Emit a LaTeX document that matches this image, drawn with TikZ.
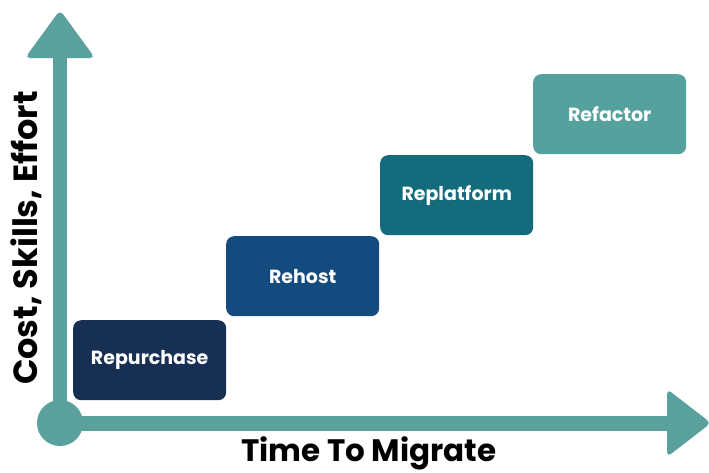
\documentclass[tikz,border=0pt]{standalone}
\usepackage{fontspec}
\setmainfont{Poppins}[BoldFont={* Bold}]
\definecolor{axisteal}{HTML}{5AA19E}
\definecolor{cnavy}{HTML}{172F52}
\definecolor{cblue}{HTML}{134B7F}
\definecolor{cpetrol}{HTML}{136B7C}
\definecolor{cteal}{HTML}{55A19E}
\begin{document}
\begin{tikzpicture}[x=1pt,y=-1pt,
  stage/.style={rounded corners=8pt, minimum width=153pt, minimum height=80pt,
    text=white, font=\bfseries\fontsize{19}{21}\selectfont, inner sep=0pt},
  axislabel/.style={font=\bfseries\fontsize{32}{34}\selectfont, text=black, inner sep=0pt}]
\useasboundingbox (0,0) rectangle (709,472);
% axes
\fill[axisteal] (53,50) rectangle (67,423);
\fill[axisteal] (60,415.5) rectangle (672,430.5);
\fill[axisteal, rounded corners=5pt] (60,10) -- (95,58) -- (25,58) -- cycle;
\fill[axisteal, rounded corners=5pt] (711,423) -- (667,389) -- (667,457) -- cycle;
\node[circle, fill=axisteal, minimum size=46pt, inner sep=0pt] (origin) at (60,423) {};
% stages
\node[stage, fill=cnavy, anchor=north west] (repurchase) at (73,320) {Repurchase};
\node[stage, fill=cblue, anchor=north west] (rehost) at (226,236) {Rehost};
\node[stage, fill=cpetrol, anchor=north west] (replatform) at (380,155) {Replatform};
\node[stage, fill=cteal, anchor=north west] (refactor) at (533,74) {Refactor};
% axis labels
\node[axislabel, rotate=90, font=\bfseries\fontsize{33.5}{35}\selectfont] (ylabel) at (26,238) {Cost, Skills, Effort};
\node[axislabel, anchor=base, font=\bfseries\fontsize{31}{33}\selectfont] (xlabel) at (369,461) {Time To Migrate};
\end{tikzpicture}
\end{document}
